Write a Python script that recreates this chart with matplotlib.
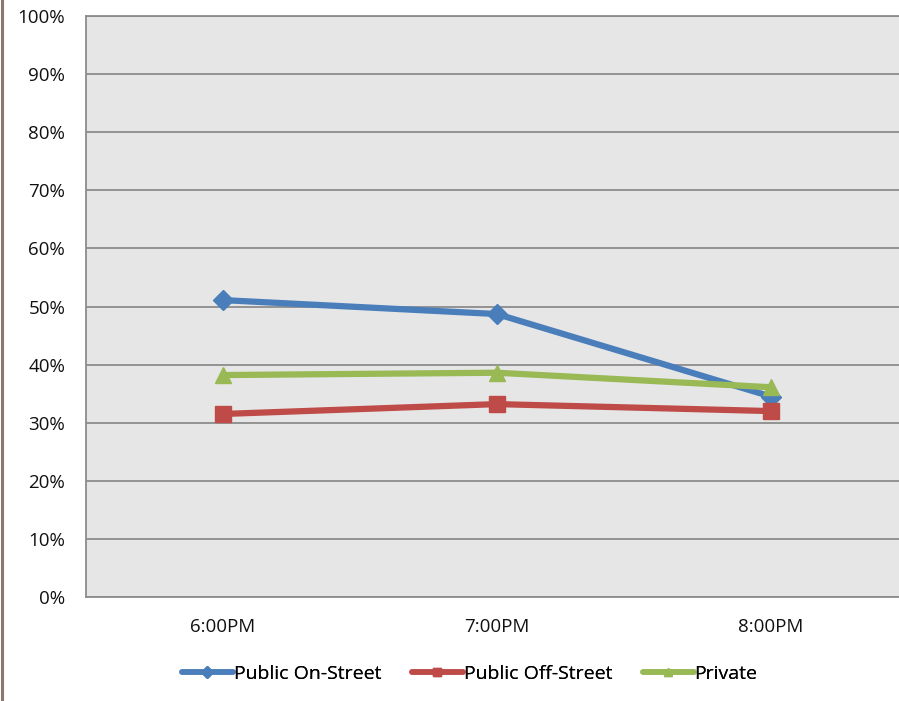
import matplotlib
matplotlib.use("Agg")
import matplotlib.pyplot as plt
from matplotlib.lines import Line2D

plt.rcParams['font.family'] = ['Open Sans', 'DejaVu Sans']

categories = ["6:00PM", "7:00PM", "8:00PM"]
on_street = [0.511, 0.487, 0.345]
off_street = [0.315, 0.332, 0.320]
private = [0.382, 0.386, 0.361]
series_names = ["Public On-Street", "Public Off-Street", "Private"]
yticks = [i / 10 for i in range(11)]
ytick_labels = [f"{i*10}%" for i in range(11)]

colors = ["#4A7EBB", "#BE4B48", "#98B954"]
markers = ["D", "s", "^"]
msizes = [10, 11, 11]

fig = plt.figure(figsize=(8.99, 7.01), dpi=100)
ax = fig.add_axes([86/899, 1-597/701, 822/899, 581/701])
ax.set_facecolor("#E6E6E6")

x = list(range(len(categories)))
for vals, c, m, ms, name in zip([on_street, off_street, private], colors, markers, msizes, series_names):
    ax.plot(x, vals, color=c, lw=4.5, marker=m, markersize=ms, label=name,
            solid_capstyle="round", zorder=3)

ax.set_xlim(-0.5, 2.5)
ax.set_ylim(0, 1.0)
ax.set_yticks(yticks)
ax.set_yticklabels(ytick_labels)
ax.set_xticks(x)
ax.set_xticklabels(categories)
ax.yaxis.grid(True, color="#8C8C8C", lw=1.3, zorder=1)
ax.set_axisbelow(True)
for s in ax.spines.values():
    s.set_color("#8C8C8C")
    s.set_linewidth(1.3)
ax.tick_params(axis="both", length=0, labelsize=13.5, colors="#111111")
ax.tick_params(axis="y", pad=15)
ax.tick_params(axis="x", pad=15)

legend_x = [182, 412, 643]
for c, m, name, lx in zip(colors, markers, series_names, legend_x):
    h = Line2D([0], [0], color=c, lw=4, marker=m, markersize=6, solid_capstyle="round")
    leg = fig.legend([h], [name], loc="center left", bbox_to_anchor=(lx/899, 1-674/701),
                     frameon=False, fontsize=14, handlelength=2.6, handletextpad=0.05,
                     borderpad=0, borderaxespad=0)
    fig.add_artist(leg)

fig.add_artist(Line2D([1.5/899, 1.5/899], [0, 1], color="#8B7670", lw=2.2, transform=fig.transFigure))

fig.savefig("out.png", dpi=100)
